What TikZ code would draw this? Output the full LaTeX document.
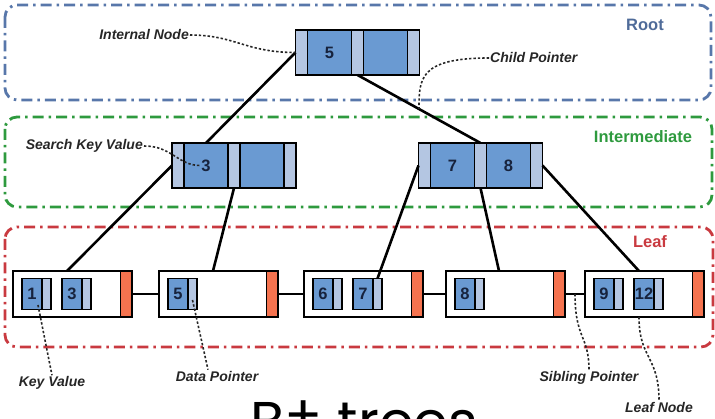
\documentclass[tikz,border=0pt]{standalone}
\usepackage{fontspec}
\setmainfont{Liberation Sans}
\newfontfamily\titlefont{Poppins}
\usetikzlibrary{positioning}

\definecolor{keyblue}{HTML}{6A9AD2}
\definecolor{ptrblue}{HTML}{B4C6E2}
\definecolor{endred}{HTML}{F5734F}
\definecolor{rootcol}{HTML}{5877AA}
\definecolor{midcol}{HTML}{2E9A3E}
\definecolor{leafcol}{HTML}{C93A40}
\definecolor{numcol}{HTML}{17233D}
\definecolor{notecol}{HTML}{262626}

\tikzset{
  cell/.style={draw=black, line width=1.7pt, outer sep=0pt, inner sep=0pt, minimum height=45pt},
  ptrcell/.style={cell, fill=ptrblue, minimum width=12pt},
  keycell/.style={cell, fill=keyblue, minimum width=44pt,
    font=\fontsize{16.5}{16.5}\selectfont\bfseries, text=numcol},
  leafbox/.style={cell, fill=white, minimum width=119pt, minimum height=46pt},
  endcell/.style={cell, fill=endred, minimum width=11.5pt, minimum height=46pt},
  lkey/.style={cell, fill=keyblue, minimum width=20pt, minimum height=31pt,
    font=\fontsize{16.5}{16.5}\selectfont\bfseries, text=numcol},
  lptr/.style={cell, fill=ptrblue, minimum width=9pt, minimum height=31pt},
  link/.style={line width=2.6pt, black},
  note/.style={font=\fontsize{14}{14}\selectfont\bfseries\itshape, text=notecol, inner sep=1pt},
  noteline/.style={line width=1.6pt, dash pattern=on 2.4pt off 2pt, notecol},
  level/.style={line width=2.8pt, rounded corners=12pt,
    dash pattern=on 11pt off 5pt on 2.5pt off 5pt},
  levellabel/.style={font=\fontsize{16.5}{16.5}\selectfont\bfseries}
}

% internal node: name, centre, two keys
\newcommand{\internode}[4]{%
  \node[ptrcell] (#1-p1) at (#2) {};
  \node[keycell, left=0pt of #1-p1] (#1-k1) {#3};
  \node[ptrcell, left=0pt of #1-k1] (#1-p0) {};
  \node[keycell, right=0pt of #1-p1] (#1-k2) {#4};
  \node[ptrcell, right=0pt of #1-k2] (#1-p2) {};
}
% leaf node: name, centre, list of keys
\newcommand{\leafnode}[3]{%
  \node[leafbox] (#1) at (#2) {};
  \node[endcell, anchor=east] (#1-end) at (#1.east) {};
  \foreach \k [count=\i] in {#3} {
    \node[lkey, anchor=west, xshift={9+40*(\i-1)}] (#1-k\i) at (#1.west) {\k};
    \node[lptr, right=0pt of #1-k\i] (#1-d\i) {};
  }
}

\begin{document}
\begin{tikzpicture}[x=1pt, y=-1pt]
  \useasboundingbox (0,0) rectangle (715,419);
  \clip (0,0) rectangle (715,419);

  % levels
  \draw[level, rootcol] (5,5) rectangle (711,100);
  \draw[level, midcol] (5,117) rectangle (712,207);
  \draw[level, leafcol] (5,227) rectangle (713,347);
  \node[levellabel, text=rootcol!90!black] (rootLbl) at (645,25) {Root};
  \node[levellabel, text=midcol] (midLbl) at (643,137) {Intermediate};
  \node[levellabel, text=leafcol] (leafLbl) at (650,242) {Leaf};

  % tree
  \internode{root}{357.5,52.5}{5}{}
  \internode{intA}{234,165.5}{3}{}
  \internode{intB}{480.5,165.5}{7}{8}

  \leafnode{leafA}{72.5,294}{1,3}
  \leafnode{leafB}{218.5,294}{5}
  \leafnode{leafC}{363.5,294}{6,7}
  \leafnode{leafD}{505.5,294}{8}
  \leafnode{leafE}{644.5,294}{9,12}

  \draw[link] (root-p0.west) -- (intA-k1.north);
  \draw[link] (root-p1.south) -- coordinate[pos=0.5] (cpt) (intB-p1.north);
  \draw[link] (intA-p0.west) -- ([xshift=54pt]leafA.north west);
  \draw[link] (intA-p1.south) -- ([xshift=54pt]leafB.north west);
  \draw[link] (intB-p0.west) -- (leafC-d2.north);
  \draw[link] (intB-p1.south) -- ([xshift=53pt]leafD.north west);
  \draw[link] (intB-p2.east) -- ([xshift=54pt]leafE.north west);

  \foreach \a/\b in {A/B,B/C,C/D}
    \draw[link] (leaf\a-end.east) -- (leaf\b.west);
  \draw[link] (leafD-end.east) -- coordinate[pos=0.5] (sib) (leafE.west);

  % notes
  \node[note, anchor=east] (inNote) at (190,35) {Internal Node};
  \draw[noteline] (inNote.east) .. controls +(45,0) and +(-50,0) .. (root-p0.west);
  \node[note, anchor=west] (cpNote) at (489,58) {Child Pointer};
  \draw[noteline] (cpNote.west) .. controls +(-70,0) and +(0,-30) .. (cpt);
  \node[note, anchor=east] (skNote) at (144,146) {Search Key Value};
  \draw[noteline] (skNote.east) .. controls +(28,0) and +(-22,0) .. ([xshift=-6pt]intA-k1.center);
  \node[note] (kvNote) at (52,383) {Key Value};
  \draw[noteline] ([xshift=6pt,yshift=-11pt]leafA-k1.center) -- (kvNote.north);
  \node[note] (dpNote) at (217,376) {Data Pointer};
  \draw[noteline] ([yshift=-6pt]leafB-d1.center) -- ([xshift=-9pt]dpNote.north);
  \node[note] (spNote) at (589,378) {Sibling Pointer};
  \draw[noteline] (sib) .. controls +(0,45) and +(0,-35) .. (spNote.north);
  \node[note] (lnNote) at (659,407) {Leaf Node};
  \draw[noteline] ([xshift=54pt]leafE.south west) .. controls +(0,42) and +(0,-45) .. (lnNote.north);

  \node[anchor=base west, inner sep=0pt, font=\titlefont\fontsize{56}{56}\selectfont]
    (title) at (250,442) {B\raisebox{0.12em}{+} trees};
\end{tikzpicture}
\end{document}
